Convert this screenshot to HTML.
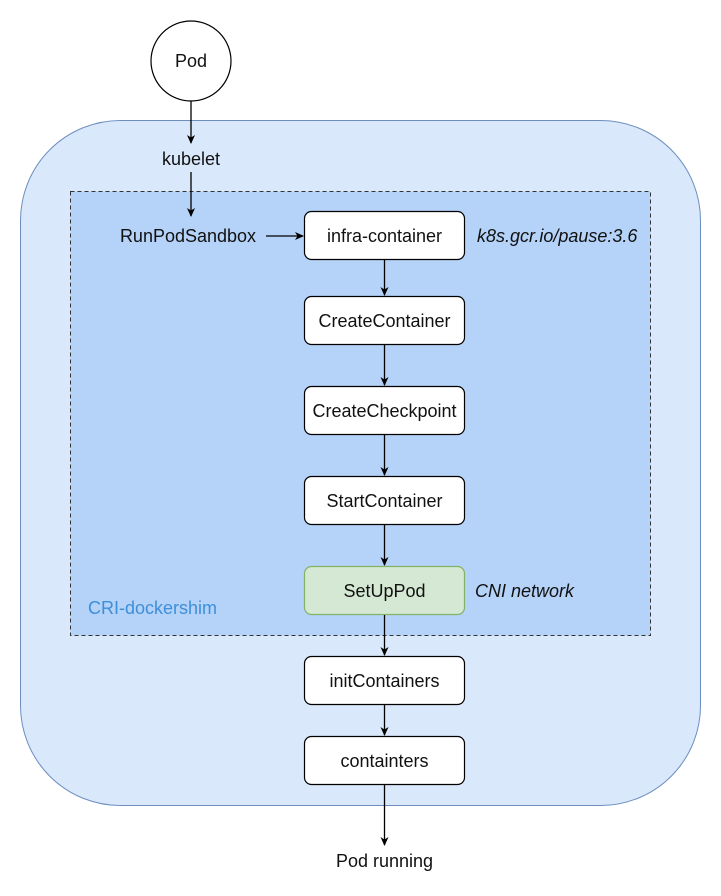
<!DOCTYPE html>
<html><head><meta charset="utf-8"><style>
html,body{margin:0;padding:0;background:#fff}
svg{display:block}
text{font-family:"Liberation Sans",Arial,sans-serif;font-size:18px;fill:#111}
</style></head><body>
<svg width="721" height="896" viewBox="0 0 721 896" xmlns="http://www.w3.org/2000/svg">
<defs><marker id="a" markerWidth="10" markerHeight="10" refX="8" refY="5" orient="auto" markerUnits="userSpaceOnUse"><path d="M0,1 L9,5 L0,9 L2.5,5 Z" fill="#000"/></marker></defs>
<rect x="20.5" y="120.5" width="680" height="685" rx="100" fill="#dae8fc" stroke="#6c8ebf"/>
<rect x="70.5" y="191.5" width="580" height="444" fill="#b5d2f8" stroke="#333" stroke-dasharray="4,3"/>
<circle cx="191" cy="61" r="40" fill="#fff" stroke="#000" stroke-width="1.2"/>
<text x="191" y="67" text-anchor="middle">Pod</text>
<g stroke="#000" stroke-width="1.3">
<line x1="191" y1="101" x2="191" y2="143" marker-end="url(#a)"/>
<line x1="191" y1="172" x2="191" y2="216" marker-end="url(#a)"/>
<line x1="266" y1="236" x2="303" y2="236" marker-end="url(#a)"/>
</g>
<text x="191" y="165" text-anchor="middle">kubelet</text>
<text x="188" y="242" text-anchor="middle">RunPodSandbox</text>
<g stroke="#000" fill="#fff" stroke-width="1.2">
<rect x="304.5" y="211.5" width="160" height="48" rx="7"/>
<rect x="304.5" y="296.5" width="160" height="48" rx="7"/>
<rect x="304.5" y="386.5" width="160" height="48" rx="7"/>
<rect x="304.5" y="476.5" width="160" height="48" rx="7"/>
<rect x="304.5" y="566.5" width="160" height="48" rx="7" fill="#d5e8d4" stroke="#82b366"/>
<rect x="304.5" y="656.5" width="160" height="48" rx="7"/>
<rect x="304.5" y="736.5" width="160" height="48" rx="7"/>
</g>
<g stroke="#000" stroke-width="1.3">
<line x1="384.5" y1="260" x2="384.5" y2="295" marker-end="url(#a)"/>
<line x1="384.5" y1="345" x2="384.5" y2="385" marker-end="url(#a)"/>
<line x1="384.5" y1="435" x2="384.5" y2="475" marker-end="url(#a)"/>
<line x1="384.5" y1="525" x2="384.5" y2="565" marker-end="url(#a)"/>
<line x1="384.5" y1="615" x2="384.5" y2="655" marker-end="url(#a)"/>
<line x1="384.5" y1="705" x2="384.5" y2="735" marker-end="url(#a)"/>
<line x1="384.5" y1="785" x2="384.5" y2="845" marker-end="url(#a)"/>
</g>
<g text-anchor="middle">
<text x="384.5" y="242">infra-container</text>
<text x="384.5" y="327">CreateContainer</text>
<text x="384.5" y="417">CreateCheckpoint</text>
<text x="384.5" y="507">StartContainer</text>
<text x="384.5" y="597">SetUpPod</text>
<text x="384.5" y="687">initContainers</text>
<text x="384.5" y="767">containters</text>
<text x="384.5" y="867">Pod running</text>
</g>
<text x="477" y="242" font-style="italic">k8s.gcr.io/pause:3.6</text>
<text x="475" y="597" font-style="italic">CNI network</text>
<text x="88" y="614" style="fill:#3d8fd9">CRI-dockershim</text>
</svg>
</body></html>
